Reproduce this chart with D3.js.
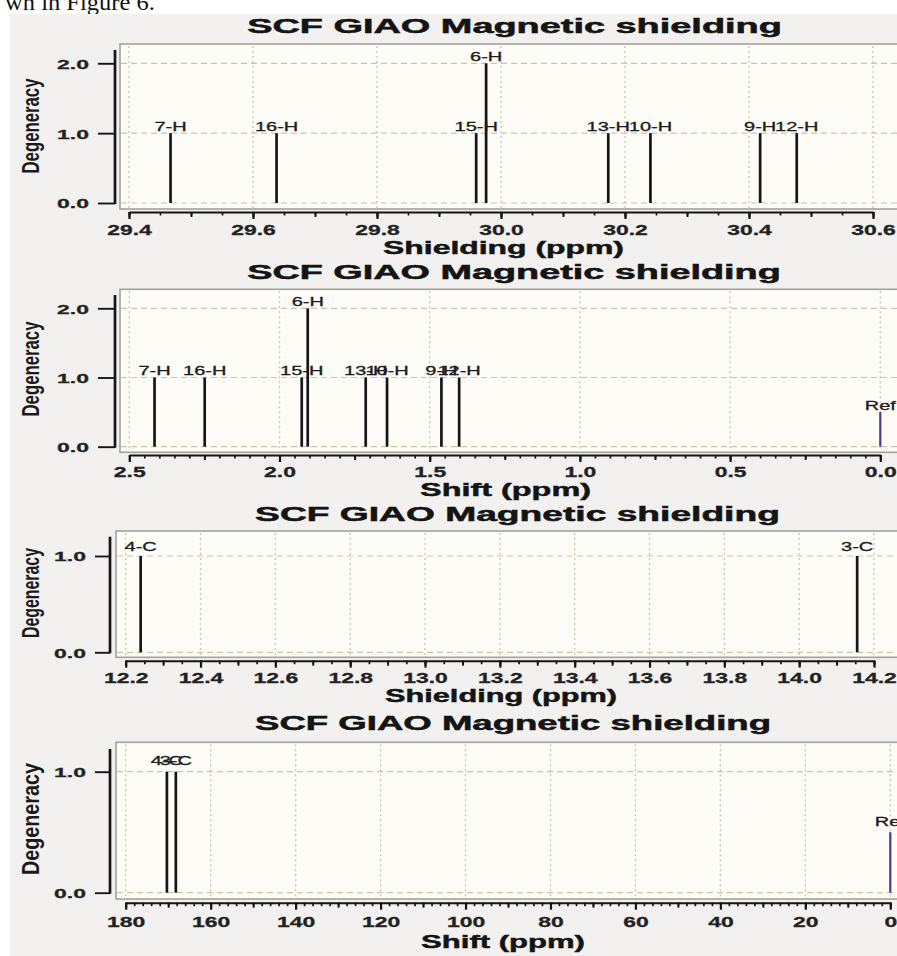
<!DOCTYPE html>
<html>
<head>
<meta charset="utf-8">
<script src="https://cdn.jsdelivr.net/npm/d3@7"></script>
<style>
  html, body { margin: 0; padding: 0; background: #ffffff; }
  svg { display: block; }
</style>
</head>
<body>
<svg id="chart" width="897" height="956"></svg>
<script>
// Proton peaks: nucleus labels, absolute shielding (ppm), chemical shift (ppm), degeneracy
const hLabels = ["7-H", "16-H", "15-H", "6-H", "13-H", "10-H", "9-H", "12-H"];
const hShielding = [29.467, 29.638, 29.960, 29.976, 30.173, 30.241, 30.418, 30.477];
const hShift = [2.416, 2.249, 1.926, 1.906, 1.713, 1.642, 1.461, 1.402];
const hDegeneracy = [1, 1, 1, 2, 1, 1, 1, 1];

// Carbon peaks
const cLabels = ["4-C", "3-C"];
const cShielding = [12.240, 14.155];
const cShift = [170.3, 168.2];
const cDegeneracy = [1, 1];

// Reference marker on the shift spectra
const refLabel = "Ref";
const refShift = 0;
const refDegeneracy = 0.5;

// Axis tick values
const hShieldTicks = [29.4, 29.6, 29.8, 30.0, 30.2, 30.4, 30.6];
const hShiftTicks = [2.5, 2.0, 1.5, 1.0, 0.5, 0.0];
const cShieldTicks = [12.2, 12.4, 12.6, 12.8, 13.0, 13.2, 13.4, 13.6, 13.8, 14.0, 14.2];
const cShiftTicks = [180, 160, 140, 120, 100, 80, 60, 40, 20, 0];
const degTicksH = [0, 1, 2];
const degTicksC = [0, 1];

// Texts
const titleText = "SCF GIAO Magnetic shielding";
const yTitle = "Degeneracy";
const shieldTitle = "Shielding (ppm)";
const shiftTitle = "Shift (ppm)";
const captionText = "wn in Figure 6.";

const FONT = "'Liberation Sans', Arial, Helvetica, sans-serif";
const RIGHT = 912; // plot frames run past the right edge of the page

const svg = d3.select("#chart");

// stretch a text horizontally so that it spans the given width, centred on cx
function fitWidth(sel, cx, baseline, width) {
  const w = sel.node().getComputedTextLength();
  sel.attr("text-anchor", "middle")
    .attr("transform", `translate(${cx},${baseline}) scale(${width / w},1)`);
}

// page caption fragment on white, then the grey figure backdrop
const cap = svg.append("text")
  .attr("font-family", "'Liberation Serif', 'Times New Roman', serif")
  .attr("font-size", 24)
  .attr("fill", "#111")
  .text(captionText);
fitWidth(cap, 5 + 75, 10, 150);

svg.append("rect")
  .attr("x", 10).attr("y", 14)
  .attr("width", 897 - 10).attr("height", 956 - 14)
  .attr("fill", "#f2f1ef");

function stepValues(domain, step) {
  const lo = Math.min(domain[0], domain[1]);
  const hi = Math.max(domain[0], domain[1]);
  const n = Math.round((hi - lo) / step);
  return d3.range(n + 1).map(i => +(lo + i * step).toFixed(6));
}

function drawPanel(p) {
  const g = svg.append("g");
  const x = d3.scaleLinear().domain(p.xDomain).range(p.xRange);
  const y = d3.scaleLinear().domain([0, p.yTicks[p.yTicks.length - 1]]).range(p.yRange);

  // title
  const t = g.append("text")
    .attr("font-family", FONT).attr("font-weight", "bold").attr("font-size", 19.5)
    .attr("fill", "#141414").attr("stroke", "#141414").attr("stroke-width", 0.5)
    .text(titleText);
  fitWidth(t, (p.titleSpan[0] + p.titleSpan[1]) / 2, p.titleBase, p.titleSpan[1] - p.titleSpan[0]);

  // plot frame
  g.append("rect")
    .attr("x", p.box[0]).attr("y", p.box[1])
    .attr("width", RIGHT - p.box[0]).attr("height", p.box[2] - p.box[1])
    .attr("fill", "#fdfcf6")
    .attr("stroke", "#a3a19d").attr("stroke-width", 1.6);

  // horizontal dashed grid at the degeneracy ticks
  g.append("g").selectAll("line").data(p.yTicks).join("line")
    .attr("x1", p.box[0] + 1).attr("x2", RIGHT)
    .attr("y1", d => y(d)).attr("y2", d => y(d))
    .attr("stroke", "#cdc2b2").attr("stroke-width", 1.2)
    .attr("stroke-dasharray", "6,4");

  // vertical dotted grid at the major x ticks
  g.append("g").selectAll("line").data(p.xTicks).join("line")
    .attr("x1", d => x(d)).attr("x2", d => x(d))
    .attr("y1", p.box[1] + 2).attr("y2", p.box[2] - 1)
    .attr("stroke", "#cdc2b2").attr("stroke-width", 1.3)
    .attr("stroke-dasharray", "2,3");

  // peaks
  const peaks = p.labels.map((l, i) => ({ label: l, pos: p.positions[i], deg: p.degs[i], ref: false }));
  if (p.withRef) peaks.push({ label: refLabel, pos: refShift, deg: refDegeneracy, ref: true });

  g.append("g").selectAll("line").data(peaks).join("line")
    .attr("x1", d => x(d.pos)).attr("x2", d => x(d.pos))
    .attr("y1", y(0)).attr("y2", d => y(d.deg))
    .attr("stroke", d => d.ref ? "#4a3d8c" : "#161616")
    .attr("stroke-width", d => d.ref ? 2.2 : 2.7);

  g.append("g").selectAll("text").data(peaks).join("text")
    .attr("transform", d => `translate(${x(d.pos)},${y(d.deg) - p.labelGap}) scale(1.6,1)`)
    .attr("text-anchor", "middle")
    .attr("font-family", FONT).attr("font-size", 12.5)
    .attr("fill", "#1c1c1c").attr("stroke", "#1c1c1c").attr("stroke-width", 0.3)
    .text(d => d.label);

  // x axis: major, medium and minor ticks
  const xg = g.append("g").attr("transform", `translate(0,${p.axisY})`);
  xg.call(d3.axisBottom(x).tickValues(p.xTicks).tickSize(7).tickSizeOuter(0)
    .tickFormat(d3.format(p.fmt)));
  xg.select(".domain").attr("stroke", "#151515").attr("stroke-width", 2);
  xg.selectAll(".tick line").attr("stroke", "#151515").attr("stroke-width", 2.2);
  xg.selectAll(".tick text")
    .attr("y", p.tickBase - p.axisY).attr("dy", 0)
    .attr("transform", "scale(1.48,1)")
    .attr("font-family", FONT).attr("font-weight", "bold").attr("font-size", 15.5)
    .attr("fill", "#222").attr("stroke", "#222").attr("stroke-width", 0.3);

  const mg = g.append("g").attr("transform", `translate(0,${p.axisY})`);
  mg.call(d3.axisBottom(x).tickValues(stepValues(p.xDomain, p.minorStep)).tickSize(3.5).tickFormat(""));
  mg.select(".domain").remove();
  mg.selectAll(".tick line").attr("stroke", "#151515").attr("stroke-width", 1.7);

  const dg = g.append("g").attr("transform", `translate(0,${p.axisY})`);
  dg.call(d3.axisBottom(x).tickValues(stepValues(p.xDomain, p.mediumStep)).tickSize(5).tickFormat(""));
  dg.select(".domain").remove();
  dg.selectAll(".tick line").attr("stroke", "#151515").attr("stroke-width", 1.9);

  // x axis title
  const xt = g.append("text")
    .attr("font-family", FONT).attr("font-weight", "bold").attr("font-size", 18)
    .attr("fill", "#141414").attr("stroke", "#141414").attr("stroke-width", 0.45)
    .text(p.xLabel);
  fitWidth(xt, (p.xLabelSpan[0] + p.xLabelSpan[1]) / 2, p.xLabelBase, p.xLabelSpan[1] - p.xLabelSpan[0]);

  // y axis
  g.append("line")
    .attr("x1", p.yAxisX).attr("x2", p.yAxisX)
    .attr("y1", p.yAxisTop).attr("y2", y(0) + 1)
    .attr("stroke", "#151515").attr("stroke-width", 2.7);

  const yg = g.append("g").attr("transform", `translate(${p.yAxisX},0)`);
  yg.call(d3.axisLeft(y).tickValues(p.yTicks).tickSize(p.yTickLen).tickFormat(d3.format(".1f")));
  yg.select(".domain").remove();
  yg.selectAll(".tick line").attr("stroke", "#151515").attr("stroke-width", 1.9);
  yg.selectAll(".tick text")
    .attr("x", (p.yLabelRight - p.yAxisX) / 1.7).attr("dy", "0.36em")
    .attr("transform", "scale(1.7,1)")
    .attr("text-anchor", "end")
    .attr("font-family", FONT).attr("font-weight", "bold").attr("font-size", 13.5)
    .attr("fill", "#222").attr("stroke", "#222").attr("stroke-width", 0.3);

  // y axis title, rotated, stretched across its glyph height
  const yt = g.append("text")
    .attr("dy", "0.34em")
    .attr("text-anchor", "middle")
    .attr("font-family", FONT).attr("font-weight", "bold").attr("font-size", 18)
    .attr("fill", "#1a1a1a")
    .text(yTitle);
  const yw = yt.node().getComputedTextLength();
  yt.attr("transform",
    `translate(${p.degCenter[0]},${p.degCenter[1]}) rotate(-90) scale(${p.degLen / yw},1.3)`);
}

drawPanel({
  xDomain: [29.4, 30.6], xRange: [129, 873], xTicks: hShieldTicks, fmt: ".1f",
  minorStep: 0.05, mediumStep: 0.1,
  yTicks: degTicksH, yRange: [203, 63.3],
  box: [120, 44, 209], axisY: 212, tickBase: 235,
  titleBase: 33, titleSpan: [247, 782],
  xLabel: shieldTitle, xLabelSpan: [383, 624], xLabelBase: 254,
  yAxisX: 115, yAxisTop: 50, yTickLen: 17, yLabelRight: 89,
  degCenter: [31, 126], degLen: 95,
  labels: hLabels, positions: hShielding, degs: hDegeneracy, withRef: false, labelGap: 2.5
});

drawPanel({
  xDomain: [2.5, 0], xRange: [129.3, 880.3], xTicks: hShiftTicks, fmt: ".1f",
  minorStep: 0.05, mediumStep: 0.25,
  yTicks: degTicksH, yRange: [446.7, 308.3],
  box: [120, 289.3, 452.3], axisY: 455, tickBase: 477,
  titleBase: 279, titleSpan: [247, 781],
  xLabel: shiftTitle, xLabelSpan: [420, 591], xLabelBase: 496,
  yAxisX: 115, yAxisTop: 295, yTickLen: 17, yLabelRight: 89,
  degCenter: [31, 369], degLen: 95,
  labels: hLabels, positions: hShift, degs: hDegeneracy, withRef: true, labelGap: 2.3
});

drawPanel({
  xDomain: [12.2, 14.2], xRange: [125.7, 874], xTicks: cShieldTicks, fmt: ".1f",
  minorStep: 0.05, mediumStep: 0.1,
  yTicks: degTicksC, yRange: [652.3, 556],
  box: [116, 531, 657.3], axisY: 660.7, tickBase: 683,
  titleBase: 521, titleSpan: [255, 780],
  xLabel: shieldTitle, xLabelSpan: [385, 617], xLabelBase: 702,
  yAxisX: 110, yAxisTop: 536.7, yTickLen: 15, yLabelRight: 86,
  degCenter: [31, 593], degLen: 90,
  labels: cLabels, positions: cShielding, degs: cDegeneracy, withRef: false, labelGap: 5
});

drawPanel({
  xDomain: [180, 0], xRange: [125.7, 890.3], xTicks: cShiftTicks, fmt: "d",
  minorStep: 2, mediumStep: 10,
  yTicks: degTicksC, yRange: [892.7, 771.7],
  box: [116, 742.3, 899], axisY: 902.7, tickBase: 927,
  titleBase: 730, titleSpan: [255, 771],
  xLabel: shiftTitle, xLabelSpan: [421, 585], xLabelBase: 948,
  yAxisX: 110, yAxisTop: 749, yTickLen: 15, yLabelRight: 86,
  degCenter: [31, 819], degLen: 112,
  labels: cLabels, positions: cShift, degs: cDegeneracy, withRef: true, labelGap: 6.5
});
</script>
</body>
</html>
